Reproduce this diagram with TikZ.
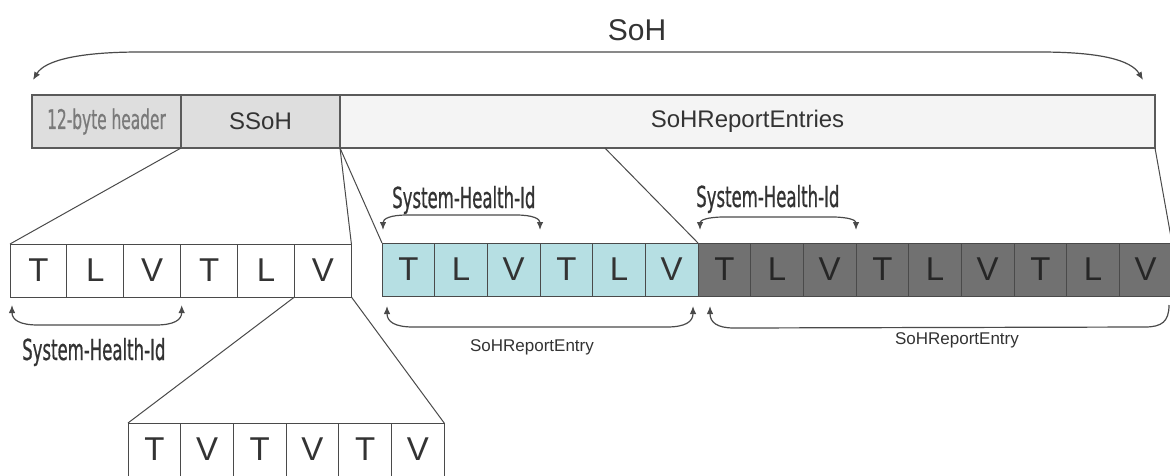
\documentclass[tikz,border=0pt]{standalone}
\usepackage{fontspec}
\setmainfont{Liberation Sans}
\newfontfamily\condfont[FakeStretch=0.57,FakeBold=0.6]{DejaVu Sans}
\usetikzlibrary{arrows.meta,calc}

\definecolor{boxedge}{HTML}{5A5A5A}
\definecolor{celledge}{HTML}{4A4A4A}
\definecolor{hdrfill}{HTML}{DEDEDE}
\definecolor{entfill}{HTML}{F4F4F4}
\definecolor{tealfill}{HTML}{B6DFE3}
\definecolor{darkfill}{HTML}{717171}
\definecolor{linegray}{HTML}{4A4A4A}
\definecolor{txt}{HTML}{333333}
\definecolor{hdrtxt}{HTML}{7A7A7A}

\tikzset{
  field/.style={draw=boxedge, line width=1.8pt, inner sep=0pt, outer sep=0pt,
    anchor=north west, minimum height=53pt, text=txt,
    font=\fontsize{24}{24}\selectfont},
  cell/.style={draw=celledge, line width=1pt, inner sep=0pt, outer sep=0pt,
    anchor=north west, minimum height=53pt, text=txt,
    font=\fontsize{33}{33}\selectfont},
  link/.style={draw=linegray, line width=1pt},
  tipmark/.tip={Latex[length=8pt,width=6.5pt]},
  brace/.style={draw=linegray, line width=1.2pt, tipmark-tipmark},
  openbrace/.style={draw=linegray, line width=1.2pt, tipmark-},
  idlabel/.style={font=\condfont\fontsize{29}{29}\selectfont, text=txt,
    inner sep=0pt, anchor=base west},
  entrylabel/.style={font=\fontsize{17}{17}\selectfont, text=txt, inner sep=0pt},
}

% curved span marker: start, end, signed depth, run of the rounded ends
\newcommand{\spanarc}[5][brace]{%
  \draw[#1] (#2) .. controls +(0,{0.75*(#4)}) and +({-0.7*(#5)},0) ..
    ($(#2)+(#5,#4)$) -- ($(#3)+({-(#5)},#4)$)
    .. controls +({0.7*(#5)},0) and +(0,{0.75*(#4)}) .. (#3);}

\begin{document}
\begin{tikzpicture}[x=1pt,y=-1pt]
  \useasboundingbox[fill=white] (0,0) rectangle (1170,475);
  \clip (0,0) rectangle (1170,475);

  % overall message
  \node[font=\fontsize{30}{30}\selectfont, text=txt] (soh) at (637,30) {SoH};
  \coordinate (sohL) at (33,80);
  \coordinate (sohR) at (1143,80);
  \draw[brace] (sohL) .. controls +(12,-20) and +(-60,0) .. (140,52)
    -- (1040,52) .. controls +(60,0) and +(-12,-20) .. (sohR);

  % top-level fields
  \node[field, fill=hdrfill, minimum width=149pt, text=hdrtxt,
        font=\condfont\fontsize{27}{27}\selectfont] (hdr) at (32,95) {12-byte header};
  \node[field, fill=hdrfill, minimum width=159pt] (ssoh) at (181,95) {SSoH};
  \node[field, fill=entfill, minimum width=815pt] (ent) at (340,95) {SoHReportEntries};

  % SSoH expanded into TLVs
  \foreach \l [count=\i from 0] in {T,L,V,T,L,V}
    \node[cell, fill=white, minimum width=56.9pt] (a\i) at ({10+56.9*\i},244) {\l};

  % nested value expanded into TVs
  \foreach \l [count=\i from 0] in {T,V,T,V,T,V}
    \node[cell, fill=white, minimum width=52.7pt] (b\i) at ({128+52.7*\i},423) {\l};

  % first report entry
  \foreach \l [count=\i from 0] in {T,L,V,T,L,V}
    \node[cell, fill=tealfill, minimum width=52.67pt] (c\i) at ({382+52.67*\i},243) {\l};

  % second report entry
  \foreach \l [count=\i from 0] in {T,L,V,T,L,V,T,L,V}
    \node[cell, fill=darkfill, text=black!85, minimum width=52.67pt] (d\i) at ({698+52.67*\i},243) {\l};

  % expansion lines
  \draw[link] (hdr.south east) -- (a0.north west);
  \draw[link] (ssoh.south east) -- (a5.north east);
  \draw[link] (ssoh.south east) -- (c0.north west);
  \draw[link] ($(ent.south west)!0.325!(ent.south east)$) -- (d0.north west);
  \draw[link] (ent.south east) -- (d8.north east);
  \draw[link] (a5.south west) -- (b0.north west);
  \draw[link] (a5.south east) -- (b5.north east);

  % span markers
  \coordinate (s1a) at ($(a0.south west)+(2,8)$);
  \coordinate (s1b) at ($(a3.south west)+(1,8)$);
  \spanarc{s1a}{s1b}{20}{26}
  \node[idlabel] (id1) at (22,360) {System-Health-Id};

  \coordinate (s2a) at ($(c0.north west)+(1,-13)$);
  \coordinate (s2b) at ($(c3.north west)+(0,-13)$);
  \spanarc{s2a}{s2b}{-15}{24}
  \node[idlabel] (id2) at (392,208) {System-Health-Id};

  \coordinate (s3a) at ($(d0.north west)+(2,-13)$);
  \coordinate (s3b) at ($(d3.north west)+(0,-13)$);
  \spanarc{s3a}{s3b}{-13}{24}
  \node[idlabel] (id3) at (696,207) {System-Health-Id};

  \coordinate (e1a) at ($(c0.south west)+(5,10)$);
  \coordinate (e1b) at ($(c5.south east)+(-5,10)$);
  \spanarc{e1a}{e1b}{21}{26}
  \node[entrylabel] (en1) at (532,347) {SoHReportEntry};

  \coordinate (e2a) at ($(d0.south west)+(12,10)$);
  \coordinate (e2b) at (1169,305);
  \spanarc[openbrace]{e2a}{e2b}{22}{24}
  \node[entrylabel] (en2) at (957,340) {SoHReportEntry};
\end{tikzpicture}
\end{document}
